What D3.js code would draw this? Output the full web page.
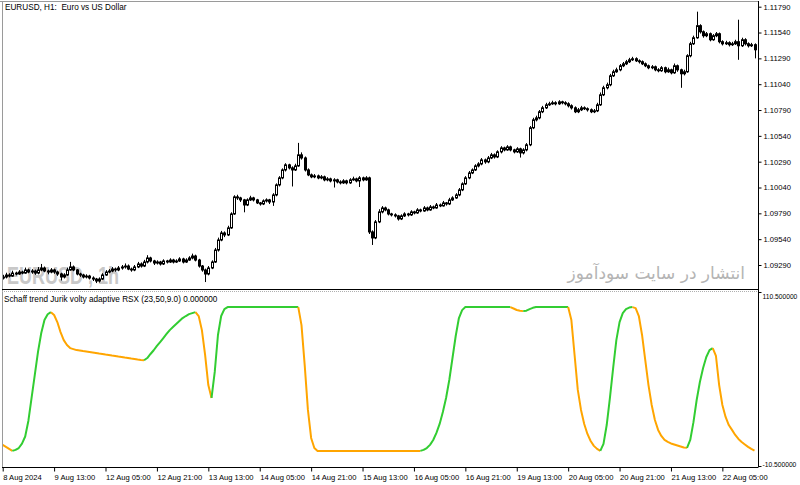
<!DOCTYPE html>
<html><head><meta charset="utf-8">
<script src="https://cdn.jsdelivr.net/npm/d3@7"></script>
<style>body{margin:0;background:#fff}svg{display:block}text{font-family:"Liberation Sans",Arial,sans-serif}</style>
</head><body><svg id="c" width="800" height="485"></svg>
<script>
// ---- data (EURUSD H1, 8 Aug 21:00 .. 22 Aug 15:00) ----
const openP=[
1.09164,1.09174,1.09193,1.09183,1.09212,1.09203,1.09222,1.09212,1.09242,1.09222,
1.09232,1.09212,1.09242,1.09261,1.09232,1.09222,1.09242,1.09222,1.09203,1.09174,
1.09193,1.09242,1.09271,1.09242,1.09203,1.09193,1.09174,1.09183,1.09164,1.09154,
1.09135,1.09154,1.09193,1.09222,1.09232,1.09251,1.09242,1.09261,1.09271,1.09280,
1.09251,1.09242,1.09271,1.09300,1.09280,1.09319,1.09358,1.09329,1.09309,1.09319,
1.09300,1.09329,1.09319,1.09338,1.09319,1.09329,1.09348,1.09319,1.09338,1.09358,
1.09377,1.09338,1.09280,1.09242,1.09203,1.09261,1.09319,1.09435,1.09532,1.09600,
1.09581,1.09649,1.09784,1.09949,1.09939,1.09920,1.09871,1.09920,1.09939,1.09920,
1.09891,1.09881,1.09910,1.09920,1.09900,1.09968,1.10065,1.10133,1.10210,1.10259,
1.10230,1.10210,1.10249,1.10356,1.10326,1.10210,1.10162,1.10143,1.10152,1.10133,
1.10143,1.10114,1.10123,1.10104,1.10114,1.10094,1.10085,1.10104,1.10085,1.10114,
1.10123,1.10104,1.10133,1.10114,1.10133,1.09610,1.09552,1.09707,1.09804,1.09842,
1.09823,1.09784,1.09775,1.09765,1.09736,1.09765,1.09784,1.09775,1.09804,1.09794,
1.09823,1.09813,1.09842,1.09823,1.09852,1.09842,1.09871,1.09862,1.09891,1.09881,
1.09920,1.09939,1.09968,1.10017,1.10075,1.10133,1.10181,1.10210,1.10249,1.10268,
1.10307,1.10288,1.10326,1.10356,1.10336,1.10385,1.10423,1.10404,1.10433,1.10404,
1.10385,1.10414,1.10375,1.10404,1.10453,1.10618,1.10695,1.10714,1.10773,1.10811,
1.10840,1.10850,1.10860,1.10850,1.10869,1.10860,1.10850,1.10831,1.10811,1.10773,
1.10792,1.10811,1.10802,1.10792,1.10773,1.10782,1.10840,1.10937,1.11005,1.11034,
1.11121,1.11160,1.11179,1.11218,1.11237,1.11257,1.11276,1.11286,1.11266,1.11257,
1.11237,1.11218,1.11199,1.11208,1.11179,1.11170,1.11199,1.11160,1.11179,1.11150,
1.11218,1.11179,1.11141,1.11160,1.11315,1.11431,1.11489,1.11606,1.11547,1.11509,
1.11528,1.11470,1.11509,1.11528,1.11451,1.11431,1.11441,1.11422,1.11431,1.11451,
1.11412,1.11470,1.11431,1.11412,1.11422];
const highP=[
1.09195,1.09215,1.09210,1.09235,1.09225,1.09240,1.09235,1.09265,1.09255,1.09250,
1.09245,1.09270,1.09300,1.09275,1.09245,1.09260,1.09255,1.09235,1.09215,1.09210,
1.09265,1.09320,1.09285,1.09250,1.09215,1.09205,1.09200,1.09195,1.09180,1.09165,
1.09170,1.09210,1.09240,1.09250,1.09270,1.09265,1.09280,1.09290,1.09305,1.09295,
1.09265,1.09290,1.09320,1.09315,1.09340,1.09385,1.09370,1.09340,1.09335,1.09330,
1.09345,1.09340,1.09355,1.09350,1.09345,1.09365,1.09360,1.09355,1.09375,1.09400,
1.09390,1.09350,1.09290,1.09255,1.09280,1.09335,1.09455,1.09555,1.09620,1.09615,
1.09670,1.09800,1.09965,1.09970,1.09950,1.09930,1.09935,1.09960,1.09950,1.09930,
1.09900,1.09925,1.09935,1.09930,1.09985,1.10080,1.10150,1.10225,1.10275,1.10270,
1.10245,1.10270,1.10472,1.10380,1.10340,1.10225,1.10175,1.10170,1.10165,1.10160,
1.10155,1.10140,1.10135,1.10130,1.10125,1.10110,1.10120,1.10115,1.10130,1.10145,
1.10135,1.10150,1.10145,1.10150,1.10145,1.09625,1.09725,1.09830,1.09860,1.09855,
1.09835,1.09795,1.09790,1.09775,1.09780,1.09800,1.09795,1.09820,1.09815,1.09840,
1.09835,1.09860,1.09855,1.09870,1.09865,1.09890,1.09885,1.09910,1.09900,1.09940,
1.09955,1.09985,1.10035,1.10090,1.10150,1.10200,1.10225,1.10265,1.10285,1.10325,
1.10320,1.10345,1.10375,1.10370,1.10400,1.10440,1.10435,1.10450,1.10445,1.10415,
1.10430,1.10425,1.10420,1.10470,1.10635,1.10715,1.10735,1.10790,1.10830,1.10860,
1.10870,1.10880,1.10875,1.10885,1.10880,1.10875,1.10865,1.10845,1.10825,1.10810,
1.10830,1.10825,1.10815,1.10805,1.10800,1.10860,1.10960,1.11025,1.11055,1.11140,
1.11180,1.11200,1.11235,1.11255,1.11275,1.11295,1.11305,1.11300,1.11280,1.11270,
1.11250,1.11230,1.11225,1.11220,1.11195,1.11215,1.11210,1.11200,1.11190,1.11240,
1.11230,1.11190,1.11180,1.11330,1.11450,1.11510,1.11742,1.11620,1.11560,1.11545,
1.11540,1.11525,1.11545,1.11540,1.11465,1.11460,1.11455,1.11450,1.11470,1.11664,
1.11490,1.11485,1.11445,1.11440,1.11435];
const lowP=[
1.09150,1.09160,1.09170,1.09175,1.09190,1.09195,1.09200,1.09205,1.09210,1.09205,
1.09195,1.09200,1.09230,1.09220,1.09200,1.09210,1.09205,1.09185,1.09140,1.09160,
1.09185,1.09235,1.09230,1.09190,1.09175,1.09160,1.09160,1.09150,1.09135,1.09115,
1.09120,1.09145,1.09185,1.09210,1.09220,1.09225,1.09230,1.09245,1.09255,1.09240,
1.09225,1.09230,1.09260,1.09265,1.09270,1.09305,1.09315,1.09290,1.09295,1.09285,
1.09290,1.09305,1.09310,1.09305,1.09310,1.09320,1.09305,1.09310,1.09330,1.09345,
1.09325,1.09265,1.09225,1.09125,1.09190,1.09250,1.09310,1.09420,1.09520,1.09560,
1.09570,1.09640,1.09775,1.09920,1.09900,1.09800,1.09860,1.09910,1.09905,1.09880,
1.09865,1.09870,1.09895,1.09880,1.09862,1.09955,1.10050,1.10120,1.10195,1.10215,
1.10050,1.10200,1.10240,1.10310,1.10195,1.10150,1.10130,1.10130,1.10120,1.10120,
1.10100,1.10100,1.10090,1.10040,1.10080,1.10070,1.10075,1.10070,1.10075,1.10105,
1.10090,1.10045,1.10100,1.10105,1.09590,1.09484,1.09540,1.09695,1.09790,1.09810,
1.09770,1.09760,1.09750,1.09720,1.09725,1.09755,1.09760,1.09765,1.09780,1.09785,
1.09800,1.09805,1.09810,1.09815,1.09830,1.09835,1.09850,1.09855,1.09865,1.09870,
1.09910,1.09930,1.09955,1.10005,1.10065,1.10120,1.10170,1.10200,1.10235,1.10255,
1.10270,1.10275,1.10315,1.10320,1.10325,1.10370,1.10390,1.10395,1.10390,1.10370,
1.10375,1.10330,1.10360,1.10390,1.10440,1.10605,1.10680,1.10700,1.10760,1.10800,
1.10830,1.10840,1.10835,1.10840,1.10845,1.10835,1.10815,1.10795,1.10760,1.10760,
1.10780,1.10790,1.10775,1.10760,1.10760,1.10770,1.10830,1.10925,1.10990,1.11020,
1.11110,1.11150,1.11165,1.11205,1.11225,1.11245,1.11265,1.11255,1.11240,1.11225,
1.11205,1.11185,1.11185,1.11165,1.11155,1.11160,1.11145,1.11150,1.11135,1.11140,
1.11160,1.11005,1.11125,1.11150,1.11300,1.11420,1.11480,1.11530,1.11490,1.11495,
1.11455,1.11460,1.11495,1.11435,1.11415,1.11420,1.11405,1.11410,1.11420,1.11276,
1.11400,1.11415,1.11395,1.11400,1.11290];
const closeP=[
1.09174,1.09193,1.09183,1.09212,1.09203,1.09222,1.09212,1.09242,1.09222,1.09232,
1.09212,1.09242,1.09261,1.09232,1.09222,1.09242,1.09222,1.09203,1.09174,1.09193,
1.09242,1.09271,1.09242,1.09203,1.09193,1.09174,1.09183,1.09164,1.09154,1.09135,
1.09154,1.09193,1.09222,1.09232,1.09251,1.09242,1.09261,1.09271,1.09280,1.09251,
1.09242,1.09271,1.09300,1.09280,1.09319,1.09358,1.09329,1.09309,1.09319,1.09300,
1.09329,1.09319,1.09338,1.09319,1.09329,1.09348,1.09319,1.09338,1.09358,1.09377,
1.09338,1.09280,1.09242,1.09203,1.09261,1.09319,1.09435,1.09532,1.09600,1.09581,
1.09649,1.09784,1.09949,1.09939,1.09920,1.09871,1.09920,1.09939,1.09920,1.09891,
1.09881,1.09910,1.09920,1.09900,1.09968,1.10065,1.10133,1.10210,1.10259,1.10230,
1.10210,1.10249,1.10356,1.10326,1.10210,1.10162,1.10143,1.10152,1.10133,1.10143,
1.10114,1.10123,1.10104,1.10114,1.10094,1.10085,1.10104,1.10085,1.10114,1.10123,
1.10104,1.10133,1.10114,1.10133,1.09610,1.09552,1.09707,1.09804,1.09842,1.09823,
1.09784,1.09775,1.09765,1.09736,1.09765,1.09784,1.09775,1.09804,1.09794,1.09823,
1.09813,1.09842,1.09823,1.09852,1.09842,1.09871,1.09862,1.09891,1.09881,1.09920,
1.09939,1.09968,1.10017,1.10075,1.10133,1.10181,1.10210,1.10249,1.10268,1.10307,
1.10288,1.10326,1.10356,1.10336,1.10385,1.10423,1.10404,1.10433,1.10404,1.10385,
1.10414,1.10375,1.10404,1.10453,1.10618,1.10695,1.10714,1.10773,1.10811,1.10840,
1.10850,1.10860,1.10850,1.10869,1.10860,1.10850,1.10831,1.10811,1.10773,1.10792,
1.10811,1.10802,1.10792,1.10773,1.10782,1.10840,1.10937,1.11005,1.11034,1.11121,
1.11160,1.11179,1.11218,1.11237,1.11257,1.11276,1.11286,1.11266,1.11257,1.11237,
1.11218,1.11199,1.11208,1.11179,1.11170,1.11199,1.11160,1.11179,1.11150,1.11218,
1.11179,1.11141,1.11160,1.11315,1.11431,1.11489,1.11606,1.11547,1.11509,1.11528,
1.11470,1.11509,1.11528,1.11451,1.11431,1.11441,1.11422,1.11431,1.11451,1.11412,
1.11470,1.11431,1.11412,1.11422,1.11373];
// Schaff trend Jurik volty adaptive RSX values
const stcValues=[
4.2,2.8,1.4,0,0.7,2,5,10,21,37,
53,69,82,91,95,96.5,94.5,89.6,82.6,77,
73.6,71.5,70.8,70.1,69.8,69.4,69.1,68.75,68.4,68.1,
67.7,67.4,67,66.7,66.3,66,65.6,65.3,64.9,64.6,
64.2,63.9,63.5,63.2,63.0,64.6,67.4,70,73,75.7,
78.5,81.3,84,86.1,88.2,90.3,92.4,93.8,95.1,95.8,
96.5,93.8,84,66.7,45.8,36.8,54.9,80.6,93.8,98.6,
100,100,100,100,100,100,100,100,100,100,
100,100,100,100,100,100,100,100,100,100,
100,100,100,87.5,59.7,28.5,9,2,0,0,
0,0,0,0,0,0,0,0,0,0,
0,0,0,0,0,0,0,0,0,0,
0,0,0,0,0,0,0,0,0,0,
0,0.7,2,4.2,7.6,12.5,18.75,27,36.8,49.3,
64.6,79.9,92.4,97.9,100,100,100,100,100,100,
100,100,100,100,100,100,100,100,100,99,
98,97.5,97.2,97.5,98.6,99.5,100,100,100,100,
100,100,100,100,100,100,100,91,66.7,42.4,
28.5,18.75,11.8,6.9,3.5,1.4,0,4.9,18,36.8,
57.6,77,89.6,95.8,98.6,99.7,100,99.3,93.8,80.6,
63.2,45.8,31.9,21.5,14.6,10.4,7.6,6.25,5.2,4.5,
3.8,3.1,2.4,2.1,7.6,20,35.4,47.9,57.6,65.3,
70.1,71.5,66,45.8,31.9,23.6,18,14.6,11.1,8.3,
6.25,4.5,2.8,1.4,0.2];
const priceTicks=[1.11790,1.11540,1.11290,1.11040,1.10790,1.10540,1.10290,1.10040,1.09790,1.09540,1.09290];
const stcTicks=[110.5,-10.5];
const timeTickBars=[0,16,32,48,64,80,96,112,128,144,160,176,192,208,224];
const timeTickLabels=["8 Aug 2024","9 Aug 13:00","12 Aug 05:00","12 Aug 21:00","13 Aug 13:00","14 Aug 05:00","14 Aug 21:00","15 Aug 13:00","16 Aug 05:00","16 Aug 21:00","19 Aug 13:00","20 Aug 05:00","20 Aug 21:00","21 Aug 13:00","22 Aug 05:00"];

// ---- layout ----
const svg=d3.select("#c");
const L=2, R=758, mainTop=2, mainBot=289.5, indTop=291.5, indBot=467;
const n=closeP.length;
const x=d3.scaleLinear().domain([0,234]).range([2.7,754.5]);
const yP=d3.scaleLinear().domain([1.09290,1.11790]).range([265,6.7]);
const yI=d3.scaleLinear().domain([-10.5,110.5]).range([466,292]);

svg.append("rect").attr("width",800).attr("height",485).attr("fill","#fff");
svg.append("defs").append("clipPath").attr("id","mclip").append("rect")
  .attr("x",L).attr("y",mainTop).attr("width",R-L).attr("height",mainBot-mainTop);
svg.select("defs").append("clipPath").attr("id","iclip").append("rect")
  .attr("x",L).attr("y",indTop).attr("width",R-L).attr("height",indBot-indTop);

// watermarks
svg.append("text").attr("x",7).attr("y",284).attr("font-size",24).attr("font-weight","bold")
  .attr("textLength",112).attr("lengthAdjust","spacingAndGlyphs").attr("fill","#c8c8c8")
  .style("white-space","pre").attr("xml:space","preserve").text("EURUSD , 1h");
svg.append("text").attr("x",745).attr("y",279).attr("text-anchor","end")
  .style("font-family","'DejaVu Sans',sans-serif").attr("font-size",17).attr("fill","#b4b4b4")
  .text("انتشار در سایت سودآموز");

// candles
const cg=svg.append("g").attr("clip-path","url(#mclip)");
const bars=d3.range(n);
cg.selectAll("line.w").data(bars).join("line")
  .attr("x1",i=>Math.round(x(i))+0.5).attr("x2",i=>Math.round(x(i))+0.5)
  .attr("y1",i=>yP(highP[i])).attr("y2",i=>yP(lowP[i]))
  .attr("stroke","#000").attr("stroke-width",1);
cg.selectAll("rect.b").data(bars).join("rect")
  .attr("x",i=>Math.round(x(i))-0.5).attr("width",2)
  .attr("y",i=>Math.min(yP(openP[i]),yP(closeP[i])))
  .attr("height",i=>Math.max(0.5,Math.abs(yP(openP[i])-yP(closeP[i]))))
  .attr("fill",i=>closeP[i]>=openP[i]?"#fff":"#000")
  .attr("stroke","#000").attr("stroke-width",1);

// indicator line coloured by direction
const col=[]; stcValues.forEach((v,i)=>{ if(i===0) col.push("#ffa500");
  else if(v>stcValues[i-1]) col.push("#32cd32"); else if(v<stcValues[i-1]) col.push("#ffa500"); else col.push(col[i-1]); });
const ig=svg.append("g").attr("clip-path","url(#iclip)");
const line=d3.line().x(i=>x(i)).y(i=>yI(stcValues[i]));
let runs=[]; let cur=null;
for(let i=1;i<n;i++){ if(!cur||cur.c!==col[i]){ cur={c:col[i],pts:[i-1]}; runs.push(cur);} cur.pts.push(i); }
ig.selectAll("path.s").data(runs).join("path").attr("d",r=>line(r.pts)).attr("fill","none")
  .attr("stroke",r=>r.c).attr("stroke-width",2).attr("stroke-linejoin","round");

// frame
svg.append("line").attr("x1",0).attr("x2",R).attr("y1",1.5).attr("y2",1.5).attr("stroke","#9a9a9a");
svg.append("line").attr("x1",2.5).attr("x2",2.5).attr("y1",1).attr("y2",indBot).attr("stroke","#9a9a9a");
svg.append("line").attr("x1",L).attr("x2",R).attr("y1",289.5).attr("y2",289.5).attr("stroke","#000");
svg.append("line").attr("x1",L).attr("x2",R).attr("y1",291.5).attr("y2",291.5).attr("stroke","#b0b0b0").attr("stroke-dasharray","1,1");
svg.append("line").attr("x1",R+0.5).attr("x2",R+0.5).attr("y1",1).attr("y2",indBot+0.5).attr("stroke","#000");

// axes
const fs=7.6;
const pa=svg.append("g").attr("transform",`translate(${R+0.5},0)`)
  .call(d3.axisRight(yP).tickValues(priceTicks).tickSize(3).tickPadding(2).tickFormat(d=>d.toFixed(5)));
const ia=svg.append("g").attr("transform",`translate(${R+0.5},0)`)
  .call(d3.axisRight(yI).tickValues(stcTicks).tickSize(3).tickPadding(1).tickFormat(d=>d.toFixed(6)));
const ta=svg.append("g").attr("transform",`translate(0,${indBot+0.5})`)
  .call(d3.axisBottom(x).tickValues(timeTickBars).tickSize(4).tickPadding(3).tickFormat((d,i)=>timeTickLabels[i]));
ta.selectAll(".tick text").attr("text-anchor","start").attr("x",0);
[pa,ia,ta].forEach(g=>{ g.select(".domain").remove(); g.selectAll("text").attr("font-size",fs).attr("fill","#000").style("font-family","'Liberation Sans',Arial,sans-serif");
  g.selectAll(".tick line").attr("stroke","#000"); });
ia.selectAll(".tick text").attr("font-size",6.7).attr("dy",d=>d>100?"0.95em":"0.1em");
svg.append("line").attr("x1",L).attr("x2",R).attr("y1",indBot+0.5).attr("y2",indBot+0.5).attr("stroke","#000");

// titles
svg.append("text").attr("x",5).attr("y",10).attr("font-size",8.2).attr("fill","#000")
  .style("white-space","pre").attr("xml:space","preserve").text("EURUSD, H1:  Euro vs US Dollar");
svg.append("text").attr("x",4).attr("y",301.5).attr("font-size",8.2).attr("fill","#000")
  .text("Schaff trend Jurik volty adaptive RSX (23,50,9.0) 0.000000");
</script></body></html>
